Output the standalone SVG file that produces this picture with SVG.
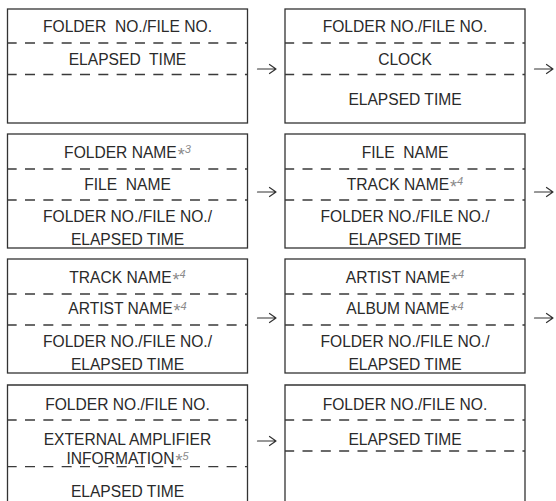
<svg xmlns="http://www.w3.org/2000/svg" width="556" height="501" viewBox="0 0 556 501">
<style>
.box{fill:none;stroke:#333;stroke-width:1.3}
.dash{fill:none;stroke:#3a3a3a;stroke-width:1.3;stroke-dasharray:10 8.33;stroke-dashoffset:0.83}
.t{font-family:"Liberation Sans",Arial,sans-serif;font-size:15.6px;fill:#2a2a2a;text-anchor:middle}
.pre{white-space:pre}
.ast{font-size:18px;fill:#8a8a8a}
.num{font-size:11px;font-style:italic;fill:#8a8a8a}
.arr{fill:none;stroke:#333;stroke-width:1.2;stroke-linecap:round;stroke-linejoin:round}
</style>
<rect width="556" height="501" fill="#fff"/>

<g id="node-r1-left">
<rect class="box" x="7.5" y="9" width="240" height="114"/>
<line class="dash" x1="7.5" y1="43" x2="247.5" y2="43"/>
<line class="dash" x1="7.5" y1="74.5" x2="247.5" y2="74.5"/>
<text class="t pre" xml:space="preserve" x="127.5" y="31.5">FOLDER  NO./FILE NO.</text>
<text class="t pre" xml:space="preserve" x="127.5" y="65">ELAPSED  TIME</text>
</g>

<g id="node-r1-right">
<rect class="box" x="285" y="9" width="240" height="114"/>
<line class="dash" x1="285" y1="43" x2="525" y2="43"/>
<line class="dash" x1="285" y1="74.5" x2="525" y2="74.5"/>
<text class="t" x="405" y="31.5">FOLDER NO./FILE NO.</text>
<text class="t" x="405" y="65">CLOCK</text>
<text class="t" x="405" y="105">ELAPSED TIME</text>
</g>

<g id="node-r2-left">
<rect class="box" x="7.5" y="134" width="240" height="114"/>
<line class="dash" x1="7.5" y1="169" x2="247.5" y2="169"/>
<line class="dash" x1="7.5" y1="200" x2="247.5" y2="200"/>
<text class="t" x="127.5" y="157.7">FOLDER NAME<tspan class="ast" dx="1" dy="3">*</tspan><tspan class="num" dy="-7.7">3</tspan></text>
<text class="t pre" xml:space="preserve" x="127.5" y="190">FILE  NAME</text>
<text class="t" x="127.5" y="221.7">FOLDER NO./FILE NO./</text>
<text class="t" x="127.5" y="245">ELAPSED TIME</text>
</g>

<g id="node-r2-right">
<rect class="box" x="285" y="134" width="240" height="114"/>
<line class="dash" x1="285" y1="169" x2="525" y2="169"/>
<line class="dash" x1="285" y1="200" x2="525" y2="200"/>
<text class="t pre" xml:space="preserve" x="405" y="157.7">FILE  NAME</text>
<text class="t" x="405" y="190">TRACK NAME<tspan class="ast" dx="1" dy="3">*</tspan><tspan class="num" dy="-7.7">4</tspan></text>
<text class="t" x="405" y="221.7">FOLDER NO./FILE NO./</text>
<text class="t" x="405" y="245">ELAPSED TIME</text>
</g>

<g id="node-r3-left">
<rect class="box" x="7.5" y="259" width="240" height="114"/>
<line class="dash" x1="7.5" y1="294" x2="247.5" y2="294"/>
<line class="dash" x1="7.5" y1="325" x2="247.5" y2="325"/>
<text class="t" x="127.5" y="282.7">TRACK NAME<tspan class="ast" dx="1" dy="3">*</tspan><tspan class="num" dy="-7.7">4</tspan></text>
<text class="t" x="127.5" y="314.3">ARTIST NAME<tspan class="ast" dx="1" dy="3">*</tspan><tspan class="num" dy="-7.7">4</tspan></text>
<text class="t" x="127.5" y="346.7">FOLDER NO./FILE NO./</text>
<text class="t" x="127.5" y="370">ELAPSED TIME</text>
</g>

<g id="node-r3-right">
<rect class="box" x="285" y="259" width="240" height="114"/>
<line class="dash" x1="285" y1="294" x2="525" y2="294"/>
<line class="dash" x1="285" y1="325" x2="525" y2="325"/>
<text class="t" x="405" y="282.7">ARTIST NAME<tspan class="ast" dx="1" dy="3">*</tspan><tspan class="num" dy="-7.7">4</tspan></text>
<text class="t" x="405" y="314.3">ALBUM NAME<tspan class="ast" dx="1" dy="3">*</tspan><tspan class="num" dy="-7.7">4</tspan></text>
<text class="t" x="405" y="346.7">FOLDER NO./FILE NO./</text>
<text class="t" x="405" y="370">ELAPSED TIME</text>
</g>

<g id="node-r4-left">
<path class="box" d="M7.5,502 V385 H247.5 V502"/>
<line class="dash" x1="7.5" y1="420" x2="247.5" y2="420"/>
<line class="dash" x1="7.5" y1="466.7" x2="247.5" y2="466.7"/>
<text class="t" x="127.5" y="410">FOLDER NO./FILE NO.</text>
<text class="t" x="127.5" y="445">EXTERNAL AMPLIFIER</text>
<text class="t" x="127.5" y="464.3">INFORMATION<tspan class="ast" dx="1" dy="3">*</tspan><tspan class="num" dy="-7.7">5</tspan></text>
<text class="t" x="127.5" y="496.7">ELAPSED TIME</text>
</g>

<g id="node-r4-right">
<path class="box" d="M285,502 V385 H525 V502"/>
<line class="dash" x1="285" y1="420" x2="525" y2="420"/>
<line class="dash" x1="285" y1="451" x2="525" y2="451"/>
<text class="t" x="405" y="410">FOLDER NO./FILE NO.</text>
<text class="t" x="405" y="445">ELAPSED TIME</text>
</g>

<g id="connectors">
<path class="arr" d="M257.5,69 H276 M269.5,64.5 L276,69 L269.5,73.5"/>
<path class="arr" d="M534.5,69 H553 M546.5,64.5 L553,69 L546.5,73.5"/>
<path class="arr" d="M257.5,192 H276 M269.5,187.5 L276,192 L269.5,196.5"/>
<path class="arr" d="M534.5,192 H553 M546.5,187.5 L553,192 L546.5,196.5"/>
<path class="arr" d="M257.5,318 H276 M269.5,313.5 L276,318 L269.5,322.5"/>
<path class="arr" d="M534.5,318 H553 M546.5,313.5 L553,318 L546.5,322.5"/>
<path class="arr" d="M257.5,441 H276 M269.5,436.5 L276,441 L269.5,445.5"/>
</g>
</svg>
